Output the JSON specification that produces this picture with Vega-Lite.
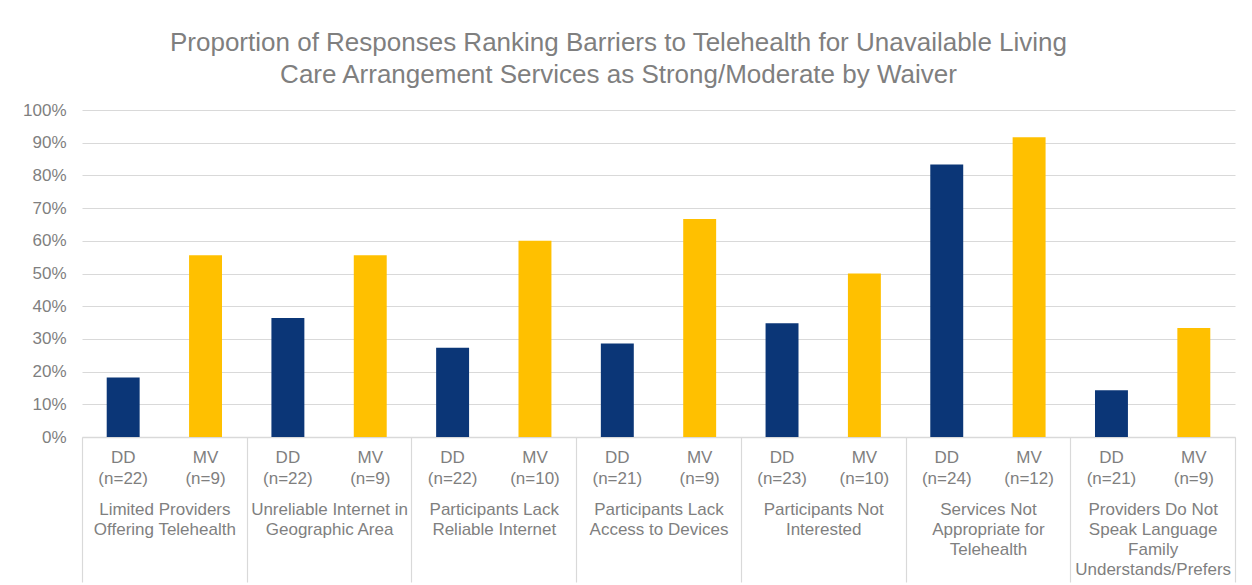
{
  "$schema": "https://vega.github.io/schema/vega-lite/v6.json",
  "autosize": "none",
  "width": 1153,
  "height": 327,
  "padding": {"left": 82, "top": 110, "right": 17, "bottom": 148},
  "background": "white",
  "title": {
    "text": ["Proportion of Responses Ranking Barriers to Telehealth for Unavailable Living", "Care Arrangement Services as Strong/Moderate by Waiver"],
    "font": "Liberation Sans",
    "fontSize": 26,
    "fontWeight": "normal",
    "color": "#7f7f7f",
    "lineHeight": 32,
    "anchor": "middle",
    "frame": "group",
    "dx": -40,
    "offset": 13
  },
  "config": {
    "view": {"stroke": null},
    "font": "Liberation Sans"
  },
  "data": {
    "values": [
      {"cat": "Limited Providers|Offering Telehealth", "waiver": "DD", "key": "01|DD|(n=22)", "value": 0.182},
      {"cat": "Limited Providers|Offering Telehealth", "waiver": "MV", "key": "02|MV|(n=9)", "value": 0.556},
      {"cat": "Unreliable Internet in|Geographic Area", "waiver": "DD", "key": "03|DD|(n=22)", "value": 0.364},
      {"cat": "Unreliable Internet in|Geographic Area", "waiver": "MV", "key": "04|MV|(n=9)", "value": 0.556},
      {"cat": "Participants Lack|Reliable Internet", "waiver": "DD", "key": "05|DD|(n=22)", "value": 0.273},
      {"cat": "Participants Lack|Reliable Internet", "waiver": "MV", "key": "06|MV|(n=10)", "value": 0.6},
      {"cat": "Participants Lack|Access to Devices", "waiver": "DD", "key": "07|DD|(n=21)", "value": 0.286},
      {"cat": "Participants Lack|Access to Devices", "waiver": "MV", "key": "08|MV|(n=9)", "value": 0.667},
      {"cat": "Participants Not|Interested", "waiver": "DD", "key": "09|DD|(n=23)", "value": 0.348},
      {"cat": "Participants Not|Interested", "waiver": "MV", "key": "10|MV|(n=10)", "value": 0.5},
      {"cat": "Services Not|Appropriate for|Telehealth", "waiver": "DD", "key": "11|DD|(n=24)", "value": 0.833},
      {"cat": "Services Not|Appropriate for|Telehealth", "waiver": "MV", "key": "12|MV|(n=12)", "value": 0.917},
      {"cat": "Providers Do Not|Speak Language|Family|Understands/Prefers", "waiver": "DD", "key": "13|DD|(n=21)", "value": 0.143},
      {"cat": "Providers Do Not|Speak Language|Family|Understands/Prefers", "waiver": "MV", "key": "14|MV|(n=9)", "value": 0.333}
    ]
  },
  "layer": [
    {
      "mark": {"type": "bar"},
      "encoding": {
        "x": {
          "field": "key",
          "type": "nominal",
          "sort": null,
          "scale": {"paddingInner": 0.6, "paddingOuter": 0.3},
          "axis": {
            "orient": "bottom",
            "title": null,
            "labelAngle": 0,
            "labelExpr": "slice(split(datum.label, '|'), 1)",
            "labelFont": "Liberation Sans",
            "labelFontSize": 17,
            "labelColor": "#7f7f7f",
            "labelLineHeight": 21,
            "labelBaseline": "top",
            "labelPadding": 12,
            "ticks": false,
            "domain": true,
            "domainColor": "#d9d9d9",
            "domainWidth": 1.5
          }
        },
        "y": {
          "field": "value",
          "type": "quantitative",
          "scale": {"domain": [0, 1], "nice": false},
          "axis": {
            "title": null,
            "format": ".0%",
            "values": [0, 0.1, 0.2, 0.3, 0.4, 0.5, 0.6, 0.7, 0.8, 0.9, 1],
            "labelFont": "Liberation Sans",
            "labelFontSize": 17,
            "labelColor": "#7f7f7f",
            "labelPadding": 16,
            "ticks": false,
            "domain": false,
            "grid": true,
            "gridColor": "#d9d9d9",
            "gridWidth": 1.2
          }
        },
        "color": {
          "field": "waiver",
          "type": "nominal",
          "scale": {"domain": ["DD", "MV"], "range": ["#0b3677", "#ffc000"]},
          "legend": null
        }
      }
    },
    {
      "mark": {"type": "bar", "opacity": 0},
      "encoding": {
        "x": {
          "field": "cat",
          "type": "nominal",
          "sort": null,
          "scale": {"paddingInner": 0, "paddingOuter": 0},
          "axis": {
            "orient": "bottom",
            "title": null,
            "labelAngle": 0,
            "labelExpr": "split(datum.label, '|')",
            "labelFont": "Liberation Sans",
            "labelFontSize": 17,
            "labelColor": "#7f7f7f",
            "labelLineHeight": 20,
            "labelBaseline": "top",
            "tickBand": "extent",
            "ticks": true,
            "tickSize": 145,
            "tickColor": "#d9d9d9",
            "tickWidth": 1.2,
            "labelPadding": -81,
            "domain": false,
            "grid": false
          }
        }
      }
    }
  ],
  "resolve": {"scale": {"x": "independent"}, "axis": {"x": "independent"}}
}
